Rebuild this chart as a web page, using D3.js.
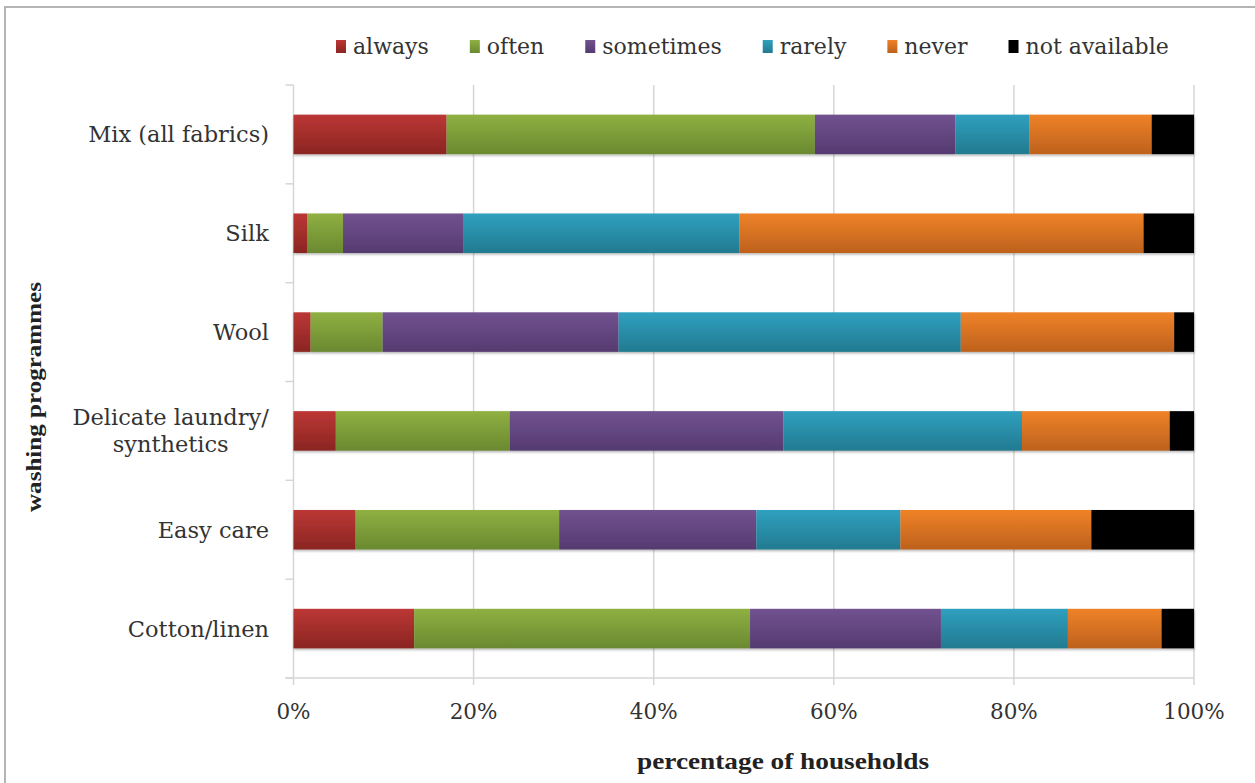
<!DOCTYPE html>
<html><head><meta charset="utf-8">
<script src="https://cdn.jsdelivr.net/npm/d3@7"></script>
<style>body{margin:0;background:#fff}svg{display:block}</style>
</head><body><svg id="chart" width="1255" height="783"></svg>
<script>
// ---- data ----
const categories = ["Mix (all fabrics)", "Silk", "Wool", "Delicate laundry/\nsynthetics", "Easy care", "Cotton/linen"];
const seriesNames = ["always", "often", "sometimes", "rarely", "never", "not available"];
const always       = [17.0, 1.5,  1.9,  4.7,  6.9, 13.4];
const often        = [40.9, 4.0,  8.0, 19.3, 22.6, 37.3];
const sometimes    = [15.6, 13.4, 26.2, 30.4, 21.9, 21.2];
const rarely       = [8.2, 30.6, 38.0, 26.5, 16.0, 14.1];
const never        = [13.6, 44.9, 23.7, 16.4, 21.2, 10.4];
const notAvailable = [4.7,  5.6,  2.2,  2.7, 11.4,  3.6];
const xTicks = [0, 20, 40, 60, 80, 100];
const xTitle = "percentage of households";
const yTitle = "washing programmes";

const seriesValues = [always, often, sometimes, rarely, never, notAvailable];
const rows = categories.map((c, i) => {
  const r = {category: c};
  seriesNames.forEach((s, j) => r[s] = seriesValues[j][i]);
  return r;
});

// ---- styles ----
const colorTop = ["#bc3735", "#8fb042", "#71528f", "#2fa0bf", "#ef8228", "#000000"];
const colorBot = ["#8a2522", "#6a8930", "#553a70", "#227a90", "#bd611d", "#000000"];
const serif = "'DejaVu Serif', serif";
const textCol = "#333";

const svg = d3.select("#chart");
const pLeft = 293.5, pRight = 1194, pTop = 85, pBottom = 678;

// frame
svg.append("rect").attr("x", 5).attr("y", 7).attr("width", 1400).attr("height", 1000)
  .attr("fill", "none").attr("stroke", "#b4b4b4").attr("stroke-width", 2);

const defs = svg.append("defs");
seriesNames.forEach((s, j) => {
  const g = defs.append("linearGradient").attr("id", "grad" + j)
    .attr("x1", 0).attr("y1", 0).attr("x2", 0).attr("y2", 1);
  g.append("stop").attr("offset", "0%").attr("stop-color", colorTop[j]);
  g.append("stop").attr("offset", "100%").attr("stop-color", colorBot[j]);
});
const f = defs.append("filter").attr("id", "shadow").attr("x", "-5%").attr("y", "-20%").attr("width", "110%").attr("height", "150%");
f.append("feDropShadow").attr("dx", 0.5).attr("dy", 1.5).attr("stdDeviation", 1.2)
  .attr("flood-color", "#000").attr("flood-opacity", 0.3);

const x = d3.scaleLinear().domain([0, 100]).range([pLeft, pRight]);
const y = d3.scaleBand().domain(categories).range([pTop, pBottom]).paddingInner(0.6).paddingOuter(0.3);

// gridlines
svg.append("g").selectAll("line").data(xTicks).join("line")
  .attr("x1", d => x(d)).attr("x2", d => x(d))
  .attr("y1", pTop).attr("y2", pBottom + 7)
  .attr("stroke", "#d6d6d6").attr("stroke-width", 1.5);

// bottom axis line
svg.append("line").attr("x1", pLeft - 8).attr("x2", pRight).attr("y1", pBottom).attr("y2", pBottom)
  .attr("stroke", "#d6d6d6").attr("stroke-width", 1.5);

// y ticks at band boundaries
const step = y.step();
const bounds = d3.range(categories.length + 1).map(k => pTop + k * step);
svg.append("g").selectAll("line").data(bounds).join("line")
  .attr("x1", pLeft - 8).attr("x2", pLeft).attr("y1", d => d).attr("y2", d => d)
  .attr("stroke", "#d6d6d6").attr("stroke-width", 1.5);

// bars
const stack = d3.stack().keys(seriesNames);
const stacked = stack(rows);
svg.append("g").attr("filter", "url(#shadow)")
  .selectAll("g").data(stacked).join("g")
  .attr("fill", (d, j) => `url(#grad${j})`)
  .selectAll("rect").data(d => d).join("rect")
  .attr("x", d => x(d[0]))
  .attr("width", d => x(d[1]) - x(d[0]))
  .attr("y", d => y(d.data.category))
  .attr("height", y.bandwidth());

// x tick labels
svg.append("g").selectAll("text").data(xTicks).join("text")
  .attr("x", d => x(d)).attr("y", 719)
  .attr("text-anchor", "middle")
  .attr("font-family", serif).attr("font-size", 21.5).attr("fill", textCol)
  .text(d => d + "%");

// category labels
const catG = svg.append("g");
categories.forEach(c => {
  const lines = c.split("\n");
  const cy = y(c) + y.bandwidth() / 2;
  const lh = 27;
  const t = catG.append("text")
    .attr("font-family", serif).attr("font-size", 22.5).attr("fill", textCol)
    .attr("text-anchor", "middle");
  t.selectAll("tspan").data(lines).join("tspan")
    .attr("x", 0)
    .attr("y", (d, i) => cy + 8 + (i - (lines.length - 1) / 2) * lh)
    .text(d => d);
  const w = t.node().getBBox().width;
  t.selectAll("tspan").attr("x", 269 - w / 2);
});

// axis titles
svg.append("text").attr("x", 783).attr("y", 769)
  .attr("text-anchor", "middle")
  .attr("font-family", "'Liberation Serif', serif").attr("font-weight", "bold")
  .attr("font-size", 24).attr("fill", "#222")
  .attr("textLength", 292).attr("lengthAdjust", "spacingAndGlyphs")
  .text(xTitle);

svg.append("text")
  .attr("transform", "translate(41,397) rotate(-90)")
  .attr("text-anchor", "middle")
  .attr("font-family", "'Liberation Serif', serif").attr("font-weight", "bold")
  .attr("font-size", 20).attr("fill", "#222")
  .attr("textLength", 230).attr("lengthAdjust", "spacingAndGlyphs")
  .text(yTitle);

// legend
const leg = svg.append("g");
let lx = 336;
seriesNames.forEach((s, j) => {
  leg.append("rect").attr("x", lx).attr("y", 40).attr("width", 10).attr("height", 13)
    .attr("fill", `url(#grad${j})`);
  const t = leg.append("text").attr("x", lx + 17).attr("y", 54)
    .attr("font-family", serif).attr("font-size", 22).attr("fill", textCol)
    .text(s);
  lx += 17 + t.node().getComputedTextLength() + 41;
});
</script>
</body></html>
